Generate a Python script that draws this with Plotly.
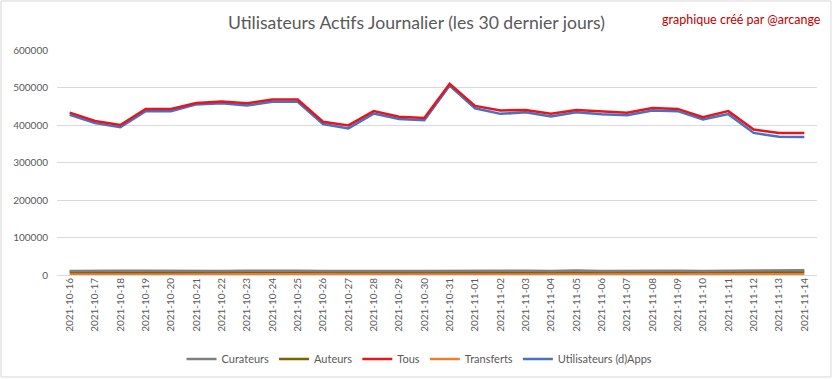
import plotly.graph_objects as go

dates = ["2021-10-16","2021-10-17","2021-10-18","2021-10-19","2021-10-20","2021-10-21",
         "2021-10-22","2021-10-23","2021-10-24","2021-10-25","2021-10-26","2021-10-27",
         "2021-10-28","2021-10-29","2021-10-30","2021-10-31","2021-11-01","2021-11-02",
         "2021-11-03","2021-11-04","2021-11-05","2021-11-06","2021-11-07","2021-11-08",
         "2021-11-09","2021-11-10","2021-11-11","2021-11-12","2021-11-13","2021-11-14"]

curateurs = [11000,12000,11500,11500,11000,12000,11000,11500,12000,11500,11000,11500,
             12000,11000,11000,11500,11500,11000,11500,11000,12000,11000,11500,11500,
             11500,11000,11500,12000,11000,13000]
auteurs = [8000,8500,8000,8000,8000,8500,8000,8000,8500,8500,8000,8000,
           8500,8000,8000,8500,8500,8000,8000,8000,8500,8000,8000,8500,
           8500,8000,8000,8500,8000,8500]
tous = [433000,410500,400000,443000,443000,458700,463000,458000,468000,468000,408700,399000,
        437000,422000,419000,510000,451000,438600,440000,429700,440000,435800,433000,445600,
        443000,421000,437000,387700,379000,379000]
transferts = [2500,2500,2500,2500,2500,2500,2500,2500,2500,2500,2500,2500,
              2500,2500,2500,2500,2500,2500,2500,2500,2500,2500,2500,2500,
              2500,2500,2500,2500,2500,2500]
dapps = [427000,405000,394000,437000,437000,455000,458000,452000,462000,462000,402500,391000,
         430500,416000,413000,505000,444700,429700,434000,422800,434000,429000,426300,438600,
         437000,414800,429000,379000,368400,368000]

series = [
    ("Curateurs", curateurs, "#7f7f7f"),
    ("Auteurs", auteurs, "#7f6000"),
    ("Tous", tous, "#e8141b"),
    ("Transferts", transferts, "#ed7d31"),
    ("Utilisateurs (d)Apps", dapps, "#4472c4"),
]

FONT = "Lato"
fig = go.Figure()
order = [4, 3, 1, 0, 2]
for i in order:
    name, vals, col = series[i]
    fig.add_trace(go.Scatter(x=dates, y=vals, mode="lines", name=name,
                             line=dict(color=col, width=2.5), legendrank=i + 1))

fig.update_layout(
    width=833, height=379,
    margin=dict(l=57, r=16, t=50, b=104, autoexpand=False),
    paper_bgcolor="white", plot_bgcolor="white",
    font=dict(family=FONT, color="#595959", size=10),
    title=dict(text="Utilisateurs Actifs Journalier (les 30 dernier jours)",
               x=0.5, xanchor="center", y=0.94, yanchor="middle",
               font=dict(size=17.6, color="#595959", family=FONT)),
    showlegend=True,
    legend=dict(orientation="h", x=0.477, xanchor="center", y=-0.373, yanchor="middle",
                font=dict(size=11, color="#595959"), traceorder="normal",
                itemwidth=30, tracegroupgap=0),
    annotations=[dict(text="graphique créé par @arcange", xref="paper", yref="paper",
                      x=1.008, y=1.137, xanchor="right", yanchor="middle", showarrow=False,
                      font=dict(size=12.5, color="#c00000", family=FONT))],
    shapes=[dict(type="rect", xref="paper", yref="paper", x0=-0.0737, x1=1.0184,
                 y0=-0.4533, y1=1.2178, line=dict(color="#d9d9d9", width=1), layer="below")],
)
fig.update_xaxes(type="category", range=[-0.5, 29.5], tickangle=-90, showgrid=False,
                 ticks="", showline=False, automargin=False,
                 tickfont=dict(size=10, color="#595959"))
fig.update_yaxes(range=[0, 600000], dtick=100000, tickformat="d", gridcolor="#d9d9d9",
                 zeroline=True, zerolinecolor="#d9d9d9", zerolinewidth=1, ticks="",
                 automargin=False, ticklabelstandoff=8,
                 tickfont=dict(size=10, color="#595959"))

fig.write_html("out.html", config={"displayModeBar": False},
               post_script="document.body.style.margin='0px';")
